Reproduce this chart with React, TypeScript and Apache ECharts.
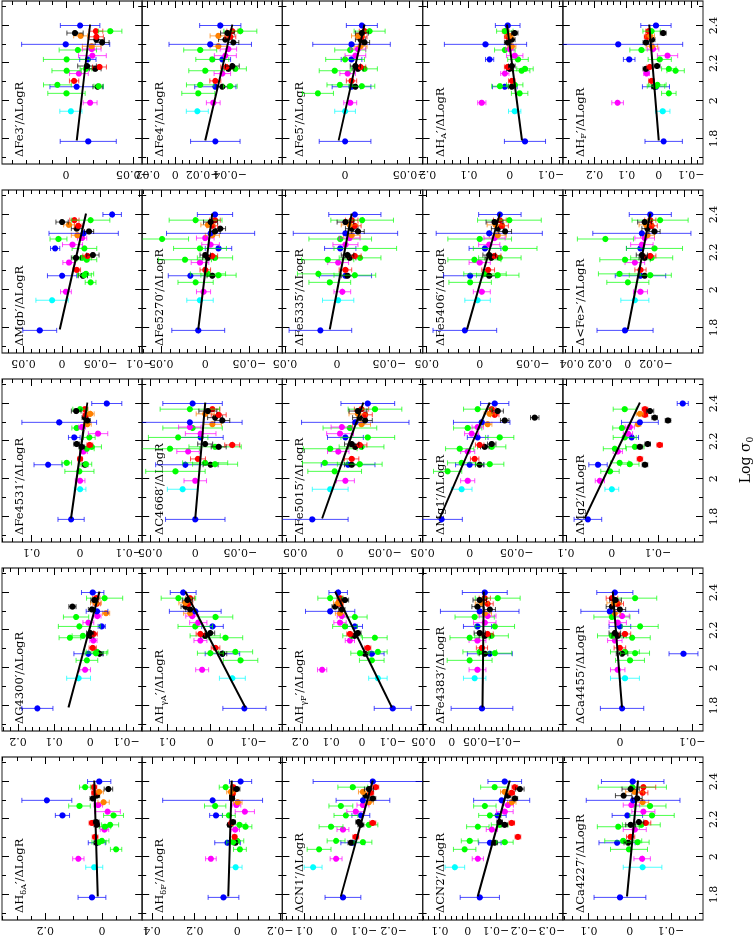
import React, { useEffect, useRef } from "react";
import * as echarts from "echarts";

// ---------------- data ----------------
const logSigma = [1.785, 1.945, 1.99, 2.04, 2.075, 2.085, 2.075, 2.078, 2.106, 2.145, 2.16, 2.17, 2.17, 2.18, 2.185, 2.22, 2.22, 2.24, 2.27, 2.275, 2.29, 2.3, 2.31, 2.325, 2.34, 2.345, 2.37, 2.37, 2.36, 2.4];
const galaxyColor = ["blue", "cyan", "magenta", "green", "blue", "green", "black", "green", "red", "magenta", "green", "green", "black", "red", "black", "blue", "green", "magenta", "green", "magenta", "orange", "blue", "black", "black", "red", "orange", "red", "green", "black", "blue"];
const fitLogSigma = [1.79, 2.405];
const logSigmaTickLabels = [1.8, 2, 2.2, 2.4];

// column 1 of the original (landscape) figure
const HdA_val = [0.035, 0.027, 0.083, -0.05, 0.018, 0.0, 0.018, 0.01, 0.024, -0.009, -0.011, -0.029, 0.018, 0.035, 0.02, 0.139, -0.041, -0.02, 0.079, 0.013, -0.006, 0.194, 0.032, 0.018, 0.026, 0.01, 0.028, 0.059, -0.023, 0.0095];
const HdA_err = [0.049, 0.03, 0.02, 0.02, 0.03, 0.025, 0.01, 0.025, 0.01, 0.015, 0.02, 0.03, 0.01, 0.01, 0.01, 0.025, 0.035, 0.045, 0.038, 0.015, 0.02, 0.088, 0.01, 0.01, 0.01, 0.015, 0.01, 0.02, 0.015, 0.041];
const HdA_fit = [0.015, 0.027];

const HdF_val = [0.065, 0.008, 0.124, -0.012, 0.046, 0.0, 0.01, 0.02, 0.013, 0.01, -0.038, -0.01, 0.036, 0.028, 0.02, 0.1, 0.04, -0.035, 0.104, 0.004, -0.002, 0.116, 0.025, 0.025, 0.02, 0.03, 0.02, 0.055, 0.003, -0.015];
const HdF_err = [0.072, 0.03, 0.025, 0.03, 0.06, 0.03, 0.01, 0.03, 0.01, 0.02, 0.03, 0.03, 0.01, 0.01, 0.01, 0.03, 0.03, 0.045, 0.05, 0.02, 0.02, 0.234, 0.01, 0.01, 0.01, 0.02, 0.01, 0.03, 0.015, 0.052];
const HdF_fit = [0.043, 0.026];

const CN1_val = [-0.03, 0.07, -0.007, 0.05, -0.063, -0.007, -0.057, -0.097, -0.073, -0.03, 0.01, -0.117, -0.09, -0.13, -0.083, -0.09, -0.04, -0.073, -0.023, -0.097, -0.117, -0.097, -0.13, -0.107, -0.123, -0.097, -0.14, -0.063, -0.117, -0.13];
const CN1_err = [0.06, 0.03, 0.02, 0.04, 0.04, 0.03, 0.01, 0.03, 0.01, 0.02, 0.04, 0.03, 0.01, 0.01, 0.01, 0.03, 0.04, 0.03, 0.04, 0.02, 0.015, 0.09, 0.01, 0.01, 0.01, 0.015, 0.01, 0.05, 0.015, 0.2];
const CN1_fit = [-0.023, -0.13];

const CN2_val = [-0.043, 0.046, -0.036, 0.011, -0.079, -0.007, -0.096, -0.132, -0.179, -0.086, -0.036, -0.114, -0.132, -0.157, -0.114, -0.107, -0.079, -0.132, -0.061, -0.143, -0.157, -0.121, -0.168, -0.143, -0.157, -0.132, -0.168, -0.096, -0.186, -0.132];
const CN2_err = [0.07, 0.035, 0.02, 0.04, 0.04, 0.03, 0.01, 0.03, 0.01, 0.02, 0.04, 0.03, 0.01, 0.01, 0.01, 0.03, 0.04, 0.03, 0.04, 0.02, 0.015, 0.1, 0.01, 0.01, 0.01, 0.015, 0.01, 0.05, 0.015, 0.06];
const CN2_fit = [-0.036, -0.15];

const Ca4227_val = [0.024, -0.031, -0.03, 0.002, 0.031, 0.016, 0.004, -0.019, -0.002, -0.012, 0.028, -0.028, -0.002, -0.039, -0.022, 0.006, -0.054, -0.033, -0.049, -0.004, -0.031, -0.008, -0.018, 0.015, -0.031, -0.012, -0.033, -0.006, -0.002, -0.007];
const Ca4227_err = [0.063, 0.047, 0.02, 0.045, 0.044, 0.045, 0.01, 0.028, 0.01, 0.028, 0.051, 0.046, 0.012, 0.012, 0.012, 0.037, 0.054, 0.028, 0.039, 0.02, 0.015, 0.114, 0.012, 0.02, 0.013, 0.022, 0.03, 0.083, 0.021, 0.076];
const Ca4227_fit = [0.007, -0.02];

// column 2
const G4300_val = [0.146, 0.032, 0.014, 0.009, 0.005, -0.019, -0.026, -0.016, -0.007, -0.009, 0.056, 0.02, 0.0, -0.01, 0.0, -0.032, 0.03, 0.005, 0.039, -0.02, -0.044, -0.019, -0.005, 0.049, -0.018, -0.016, -0.017, -0.04, -0.012, -0.007];
const G4300_err = [0.043, 0.033, 0.015, 0.03, 0.04, 0.03, 0.01, 0.03, 0.01, 0.01, 0.03, 0.03, 0.01, 0.01, 0.01, 0.01, 0.058, 0.015, 0.035, 0.01, 0.01, 0.03, 0.01, 0.01, 0.01, 0.015, 0.01, 0.05, 0.01, 0.031];
const G4300_fit = [0.06, -0.026];

const HgA_val = [-0.079, -0.051, 0.019, -0.07, -0.028, -0.058, -0.028, 0.0, -0.012, 0.023, -0.035, 0.012, 0.012, 0.023, 0.0, -0.005, 0.035, 0.028, -0.012, 0.042, 0.047, 0.035, 0.047, 0.058, 0.051, 0.058, 0.047, 0.074, 0.053, 0.063];
const HgA_err = [0.05, 0.03, 0.015, 0.04, 0.04, 0.04, 0.01, 0.03, 0.01, 0.015, 0.04, 0.035, 0.01, 0.01, 0.01, 0.025, 0.04, 0.02, 0.04, 0.015, 0.015, 0.06, 0.01, 0.01, 0.01, 0.015, 0.01, 0.04, 0.012, 0.03];
const HgA_fit = [-0.081, 0.058];

const HgF_val = [-0.1, -0.052, 0.129, -0.032, -0.032, -0.052, -0.01, 0.006, -0.019, 0.039, -0.042, 0.032, 0.023, 0.039, 0.013, 0.023, 0.055, 0.071, 0.023, 0.065, 0.071, 0.103, 0.065, 0.087, 0.071, 0.077, 0.071, 0.103, 0.055, 0.077];
const HgF_err = [0.06, 0.03, 0.015, 0.04, 0.04, 0.03, 0.01, 0.03, 0.01, 0.015, 0.04, 0.03, 0.01, 0.01, 0.01, 0.025, 0.04, 0.02, 0.04, 0.015, 0.015, 0.08, 0.01, 0.01, 0.01, 0.015, 0.01, 0.04, 0.012, 0.03];
const HgF_fit = [-0.097, 0.087];

const Fe4383_val = [-0.054, -0.041, -0.046, -0.032, -0.068, -0.05, -0.059, -0.077, -0.054, -0.046, -0.032, -0.071, -0.059, -0.064, -0.05, -0.046, -0.077, -0.059, -0.041, -0.064, -0.059, -0.05, -0.068, -0.046, -0.064, -0.054, -0.059, -0.082, -0.05, -0.059];
const Fe4383_err = [0.055, 0.02, 0.015, 0.04, 0.04, 0.03, 0.01, 0.03, 0.01, 0.015, 0.035, 0.03, 0.01, 0.01, 0.01, 0.025, 0.035, 0.02, 0.035, 0.015, 0.012, 0.07, 0.01, 0.01, 0.01, 0.012, 0.01, 0.04, 0.012, 0.04];
const Fe4383_fit = [-0.055, -0.057];

const Ca4455_val = [-0.003, -0.007, 0.003, -0.014, -0.088, -0.007, -0.003, -0.021, 0.0, 0.007, -0.017, 0.011, 0.003, -0.007, 0.007, 0.0, -0.028, 0.003, 0.011, -0.003, 0.007, 0.014, 0.0, 0.011, 0.003, 0.008, 0.011, -0.021, 0.006, 0.007];
const Ca4455_err = [0.03, 0.02, 0.01, 0.02, 0.02, 0.02, 0.008, 0.02, 0.008, 0.01, 0.025, 0.02, 0.008, 0.008, 0.008, 0.015, 0.025, 0.012, 0.025, 0.01, 0.008, 0.04, 0.008, 0.008, 0.008, 0.01, 0.008, 0.03, 0.008, 0.025];
const Ca4455_fit = [-0.003, 0.01];

// column 3
const Fe4531_val = [0.0186, 0, 0, 0.0014, 0.066, 0.0276, -0.01, -0.012, 0, -0.007, -0.014, -0.024, -0.0035, -0.02, 0.007, 0.012, -0.019, -0.037, 0.007, -0.004, -0.015, 0.043, -0.015, -0.01, -0.012, -0.021, -0.01, 0.0, 0.008, -0.055];
const Fe4531_err = [0.027, 0.012, 0.01, 0.03, 0.029, 0.01, 0.006, 0.012, 0.005, 0.008, 0.015, 0.02, 0.006, 0.006, 0.006, 0.012, 0.012, 0.02, 0.01, 0.007, 0.008, 0.077, 0.006, 0.006, 0.006, 0.008, 0.006, 0.015, 0.01, 0.031];
const Fe4531_fit = [0.019, -0.015];

const C4668_val = [0, 0.014, 0, 0.022, 0.011, -0.011, -0.017, -0.022, -0.003, 0.008, 0.028, -0.022, -0.026, -0.041, -0.011, -0.006, 0.019, -0.006, 0.003, 0.006, -0.019, 0.006, -0.03, -0.022, -0.026, -0.011, -0.019, 0.006, -0.014, 0.003];
const C4668_err = [0.033, 0.017, 0.0125, 0.033, 0.033, 0.025, 0.0083, 0.025, 0.0083, 0.0125, 0.033, 0.029, 0.0083, 0.0083, 0.0083, 0.025, 0.033, 0.017, 0.033, 0.0125, 0.01, 0.058, 0.0083, 0.0083, 0.0083, 0.01, 0.0083, 0.033, 0.01, 0.033];
const C4668_fit = [0.0, -0.011];

const Fe5015_val = [0.031, 0.011, -0.006, 0.006, -0.009, 0.017, -0.013, -0.022, -0.013, 0.002, 0.011, -0.024, -0.017, -0.022, -0.013, -0.006, -0.031, 0.0, -0.011, -0.002, -0.024, -0.017, -0.028, -0.022, -0.028, -0.02, -0.024, -0.039, -0.02, -0.031];
const Fe5015_err = [0.04, 0.02, 0.01, 0.03, 0.03, 0.025, 0.008, 0.025, 0.008, 0.012, 0.03, 0.025, 0.008, 0.008, 0.008, 0.02, 0.03, 0.015, 0.03, 0.012, 0.01, 0.06, 0.008, 0.008, 0.008, 0.01, 0.008, 0.03, 0.01, 0.03];
const Fe5015_fit = [0.02, -0.026];

const Mg1_val = [0.0298, 0.0085, 0.0021, 0.0234, 0.0, 0.0085, -0.0106, -0.0213, -0.0053, 0.0021, 0.0106, -0.0234, -0.016, -0.0106, -0.0234, -0.0085, -0.0319, -0.0021, 0.0021, -0.0085, -0.0191, -0.0128, -0.0372, -0.0691, -0.0266, -0.0213, -0.0234, -0.0085, -0.0298, -0.0266];
const Mg1_err = [0.022, 0.011, 0.0075, 0.015, 0.015, 0.015, 0.0045, 0.015, 0.0045, 0.0075, 0.015, 0.015, 0.0045, 0.0045, 0.0045, 0.011, 0.015, 0.0075, 0.015, 0.006, 0.0045, 0.03, 0.0045, 0.0045, 0.0045, 0.006, 0.0045, 0.015, 0.006, 0.015];
const Mg1_fit = [0.032, -0.0213];

const Mg2_val = [0.052, 0.0, 0.026, 0.004, 0.03, -0.017, -0.072, -0.039, -0.061, -0.013, -0.0065, -0.05, -0.061, -0.104, -0.078, -0.043, -0.028, -0.035, -0.022, -0.039, -0.057, -0.061, -0.122, -0.093, -0.072, -0.061, -0.072, -0.028, -0.083, -0.154];
const Mg2_err = [0.03, 0.015, 0.01, 0.02, 0.02, 0.02, 0.006, 0.02, 0.006, 0.01, 0.025, 0.02, 0.006, 0.006, 0.006, 0.015, 0.025, 0.01, 0.02, 0.01, 0.006, 0.04, 0.006, 0.006, 0.006, 0.008, 0.006, 0.025, 0.008, 0.012];
const Mg2_fit = [0.059, -0.061];

// column 4
const Mgb_val = [0.029, 0.013, -0.005, -0.037, 0, -0.031, -0.027, -0.029, -0.019, -0.009, -0.032, -0.026, -0.018, -0.033, -0.04, 0.009, -0.029, -0.0135, 0.0047, -0.026, -0.02, -0.028, -0.035, -0.019, -0.021, -0.009, -0.016, -0.037, 0, -0.065];
const Mgb_err = [0.022, 0.021, 0.007, 0.007, 0.019, 0.01, 0.006, 0.009, 0.005, 0.008, 0.013, 0.012, 0.006, 0.006, 0.008, 0.006, 0.016, 0.013, 0.011, 0.006, 0.008, 0.045, 0.006, 0.007, 0.005, 0.007, 0.006, 0.025, 0.008, 0.012];
const Mgb_fit = [0.003, -0.031];

const Fe5270_val = [0.008, 0.006, 0.002, 0.011, 0.017, -0.003, -0.008, -0.015, 0.0, 0.006, 0.023, -0.011, -0.003, -0.008, 0.0, -0.015, 0.006, -0.006, 0.049, 0.0, -0.008, -0.006, -0.011, -0.017, -0.008, -0.003, -0.011, 0.011, -0.006, -0.011];
const Fe5270_err = [0.03, 0.015, 0.008, 0.02, 0.025, 0.02, 0.006, 0.02, 0.006, 0.01, 0.03, 0.02, 0.006, 0.006, 0.006, 0.015, 0.03, 0.01, 0.03, 0.01, 0.008, 0.05, 0.006, 0.006, 0.006, 0.008, 0.006, 0.03, 0.008, 0.02];
const Fe5270_fit = [0.008, -0.008];

const Fe5335_val = [0.016, -0.001, -0.005, 0.007, -0.008, 0.018, -0.01, -0.017, -0.008, -0.001, 0.009, -0.022, -0.012, -0.017, -0.01, -0.003, -0.027, -0.008, -0.003, -0.012, -0.014, -0.008, -0.02, -0.014, -0.017, -0.012, -0.014, -0.024, -0.008, -0.017];
const Fe5335_err = [0.03, 0.015, 0.008, 0.02, 0.025, 0.02, 0.006, 0.02, 0.006, 0.01, 0.025, 0.02, 0.006, 0.006, 0.006, 0.015, 0.03, 0.012, 0.03, 0.01, 0.008, 0.05, 0.006, 0.006, 0.006, 0.008, 0.006, 0.03, 0.008, 0.025];
const Fe5335_fit = [0.007, -0.014];

const Fe5406_val = [0.014, 0.002, -0.002, 0.009, 0.009, -0.005, -0.009, -0.017, -0.008, 0.0, 0.005, -0.019, -0.011, -0.014, -0.009, -0.005, -0.024, -0.009, 0.0, -0.014, -0.017, -0.009, -0.024, -0.017, -0.021, -0.015, -0.019, -0.028, -0.014, -0.019];
const Fe5406_err = [0.03, 0.012, 0.008, 0.02, 0.025, 0.02, 0.006, 0.02, 0.006, 0.01, 0.025, 0.02, 0.006, 0.006, 0.006, 0.015, 0.03, 0.01, 0.03, 0.01, 0.008, 0.05, 0.006, 0.006, 0.006, 0.008, 0.006, 0.03, 0.008, 0.02];
const Fe5406_fit = [0.012, -0.019];

const Fe_val = [0.002, -0.005, -0.009, 0.0, -0.009, 0.006, -0.012, -0.016, -0.009, -0.005, 0.002, -0.017, -0.012, -0.016, -0.01, -0.009, -0.019, -0.01, 0.016, -0.012, -0.014, -0.01, -0.019, -0.014, -0.017, -0.013, -0.016, -0.023, -0.012, -0.016];
const Fe_err = [0.02, 0.01, 0.005, 0.015, 0.018, 0.015, 0.004, 0.015, 0.004, 0.007, 0.018, 0.015, 0.004, 0.004, 0.004, 0.01, 0.02, 0.008, 0.02, 0.007, 0.005, 0.035, 0.004, 0.004, 0.004, 0.005, 0.004, 0.02, 0.005, 0.015];
const Fe_fit = [0.0, -0.016];

// column 5
const Fe3_val = [-0.0166, -0.0036, -0.018, -0.0003, -0.0079, 0.0065, -0.0236, -0.0244, -0.006, -0.0096, -0.0004, -0.0149, -0.0218, -0.025, -0.0157, -0.0163, -0.0004, -0.0197, -0.0088, -0.0192, -0.0192, 0.0003, -0.027, -0.0227, -0.0227, -0.0109, -0.0223, -0.0331, -0.0067, -0.0105];
const Fe3_err = [0.021, 0.0083, 0.0052, 0.014, 0.02, 0.0104, 0.0035, 0.0035, 0.0035, 0.007, 0.011, 0.0044, 0.0044, 0.0052, 0.007, 0.0061, 0.0174, 0.0104, 0.014, 0.007, 0.007, 0.033, 0.0052, 0.0061, 0.0052, 0.0052, 0.0052, 0.0087, 0.0061, 0.0148];
const Fe3_fit = [-0.0079, -0.018];

const Fe4_val = [-0.0292, -0.0161, -0.0277, -0.0168, -0.0292, -0.0182, -0.0343, -0.0401, -0.0292, -0.0343, -0.0219, -0.0438, -0.0387, -0.0372, -0.0416, -0.0343, -0.027, -0.0365, -0.0182, -0.0387, -0.0314, -0.0255, -0.0423, -0.0365, -0.0401, -0.0314, -0.0416, -0.0474, -0.038, -0.0328];
const Fe4_err = [0.018, 0.008, 0.005, 0.012, 0.015, 0.01, 0.004, 0.005, 0.004, 0.006, 0.012, 0.008, 0.004, 0.004, 0.005, 0.006, 0.012, 0.008, 0.012, 0.006, 0.006, 0.03, 0.004, 0.005, 0.004, 0.006, 0.004, 0.012, 0.005, 0.015];
const Fe4_fit = [-0.0219, -0.0416];

const Fe5_val = [0.0, 0.0, -0.004, 0.021, -0.005, 0.004, -0.008, -0.013, -0.005, -0.002, 0.008, -0.015, -0.01, -0.012, -0.008, -0.005, 0.0, -0.008, -0.004, -0.01, -0.012, -0.005, -0.015, -0.012, -0.013, -0.01, -0.015, -0.019, -0.013, -0.013];
const Fe5_err = [0.02, 0.008, 0.005, 0.012, 0.015, 0.01, 0.004, 0.01, 0.004, 0.006, 0.012, 0.01, 0.004, 0.004, 0.004, 0.008, 0.015, 0.008, 0.012, 0.006, 0.005, 0.03, 0.004, 0.004, 0.004, 0.005, 0.004, 0.012, 0.005, 0.012];
const Fe5_fit = [0.005, -0.015];

const HA_val = [-0.037, -0.012, 0.068, -0.024, 0.012, -0.012, -0.005, 0.024, -0.005, 0.012, -0.029, -0.037, 0.0, 0.005, -0.005, 0.049, -0.02, -0.012, 0.012, 0.0, -0.005, 0.059, 0.005, -0.005, 0.005, 0.0, 0.01, 0.012, -0.012, 0.005];
const HA_err = [0.05, 0.015, 0.01, 0.02, 0.03, 0.02, 0.008, 0.02, 0.008, 0.01, 0.02, 0.02, 0.008, 0.008, 0.008, 0.01, 0.025, 0.02, 0.025, 0.01, 0.01, 0.1, 0.008, 0.008, 0.008, 0.01, 0.008, 0.02, 0.008, 0.03];
const HA_fit = [-0.03, 0.007];

const HF_val = [-0.015, -0.012, 0.128, -0.031, 0.009, 0.0045, 0.0135, 0.009, 0.0225, 0.038, -0.052, -0.031, 0.04, 0.028, 0.0054, 0.092, -0.0027, -0.027, 0.054, 0.018, 0.0216, 0.126, 0.04, 0.021, 0.036, 0.027, 0.0315, 0.0225, -0.0135, 0.009];
const HF_err = [0.058, 0.0225, 0.018, 0.0225, 0.042, 0.027, 0.009, 0.027, 0.009, 0.009, 0.027, 0.0225, 0.009, 0.009, 0.009, 0.018, 0.036, 0.0315, 0.036, 0.018, 0.018, 0.2, 0.009, 0.009, 0.009, 0.0135, 0.009, 0.027, 0.009, 0.047];
const HF_fit = [0, 0.03];

// ---------------- styling / layout ----------------
const PALETTE: Record<string, string> = {
  blue: "#0000ff", cyan: "#00ffff", magenta: "#ff00ff", green: "#00ff00",
  red: "#ff0000", black: "#000000", orange: "#ff8000",
};
const FONT = "DejaVu Serif";
const CW = 939, CH = 753; // unrotated canvas (shown turned by -90deg)
const COL_LEFT = [19, 208, 397, 586, 775];
const COL_W = 163;
const ROW_TOP = 2;
const ROW_H = 140.2;
const X_MIN = 1.665, X_MAX = 2.53;

type Seg = [string, string];
type Panel = { title: Seg[]; val: number[]; err: number[]; fit: number[]; min: number; max: number; step: number; minor: number };

const T = (name: string, sub?: string): Seg[] =>
  sub ? [["n", "Δ" + name], ["s", sub], ["n", "′/ΔLogR"]] : [["n", "Δ" + name + "′/ΔLogR"]];

const panels: Panel[][] = [
  [
    { title: T("H", "δA"), val: HdA_val, err: HdA_err, fit: HdA_fit, min: -0.142, max: 0.352, step: 0.2, minor: 0.05 },
    { title: T("H", "δF"), val: HdF_val, err: HdF_err, fit: HdF_fit, min: -0.211, max: 0.446, step: 0.2, minor: 0.05 },
    { title: T("CN1"), val: CN1_val, err: CN1_err, fit: CN1_fit, min: -0.297, max: 0.173, step: 0.1, minor: 0.02 },
    { title: T("CN2"), val: CN2_val, err: CN2_err, fit: CN2_fit, min: -0.339, max: 0.161, step: 0.1, minor: 0.02 },
    { title: T("Ca4227"), val: Ca4227_val, err: Ca4227_err, fit: Ca4227_fit, min: -0.178, max: 0.163, step: 0.1, minor: 0.02 },
  ],
  [
    { title: T("G4300"), val: G4300_val, err: G4300_err, fit: G4300_fit, min: -0.144, max: 0.244, step: 0.1, minor: 0.02 },
    { title: T("H", "γA"), val: HgA_val, err: HgA_err, fit: HgA_fit, min: -0.167, max: 0.158, step: 0.1, minor: 0.02 },
    { title: T("H", "γF"), val: HgF_val, err: HgF_err, fit: HgF_fit, min: -0.197, max: 0.258, step: 0.1, minor: 0.02 },
    { title: T("Fe4383"), val: Fe4383_val, err: Fe4383_err, fit: Fe4383_fit, min: -0.198, max: 0.0518, step: 0.05, minor: 0.01 },
    { title: T("Ca4455"), val: Ca4455_val, err: Ca4455_err, fit: Ca4455_fit, min: -0.115, max: 0.079, step: 0.1, minor: 0.02 },
  ],
  [
    { title: T("Fe4531"), val: Fe4531_val, err: Fe4531_err, fit: Fe4531_fit, min: -0.128, max: 0.161, step: 0.1, minor: 0.02 },
    { title: T("C4668"), val: C4668_val, err: C4668_err, fit: C4668_fit, min: -0.0967, max: 0.0589, step: 0.05, minor: 0.01 },
    { title: T("Fe5015"), val: Fe5015_val, err: Fe5015_err, fit: Fe5015_fit, min: -0.0922, max: 0.0644, step: 0.05, minor: 0.01 },
    { title: T("Mg1"), val: Mg1_val, err: Mg1_err, fit: Mg1_fit, min: -0.0989, max: 0.0500, step: 0.05, minor: 0.01 },
    { title: T("Mg2"), val: Mg2_val, err: Mg2_err, fit: Mg2_fit, min: -0.198, max: 0.1065, step: 0.1, minor: 0.02 },
  ],
  [
    { title: T("Mgb"), val: Mgb_val, err: Mgb_err, fit: Mgb_fit, min: -0.104, max: 0.078, step: 0.05, minor: 0.01 },
    { title: T("Fe5270"), val: Fe5270_val, err: Fe5270_err, fit: Fe5270_fit, min: -0.0875, max: 0.0716, step: 0.05, minor: 0.01 },
    { title: T("Fe5335"), val: Fe5335_val, err: Fe5335_err, fit: Fe5335_fit, min: -0.0819, max: 0.0524, step: 0.05, minor: 0.01 },
    { title: T("Fe5406"), val: Fe5406_val, err: Fe5406_err, fit: Fe5406_fit, min: -0.0783, max: 0.0538, step: 0.05, minor: 0.01 },
    { title: T("<Fe>"), val: Fe_val, err: Fe_err, fit: Fe_fit, min: -0.0536, max: 0.0464, step: 0.02, minor: 0.005 },
  ],
  [
    { title: T("Fe3"), val: Fe3_val, err: Fe3_err, fit: Fe3_fit, min: -0.057, max: 0.048, step: 0.05, minor: 0.01 },
    { title: T("Fe4"), val: Fe4_val, err: Fe4_err, fit: Fe4_fit, min: -0.078, max: 0.024, step: 0.02, minor: 0.005 },
    { title: T("Fe5"), val: Fe5_val, err: Fe5_err, fit: Fe5_fit, min: -0.06, max: 0.0485, step: 0.05, minor: 0.01 },
    { title: T("H", "A"), val: HA_val, err: HA_err, fit: HA_fit, min: -0.129, max: 0.212, step: 0.1, minor: 0.02 },
    { title: T("H", "F"), val: HF_val, err: HF_err, fit: HF_fit, min: -0.137, max: 0.298, step: 0.1, minor: 0.02 },
  ],
];

function multiples(min: number, max: number, step: number): number[] {
  const out: number[] = [];
  const k0 = Math.ceil(min / step - 1e-9), k1 = Math.floor(max / step + 1e-9);
  for (let k = k0; k <= k1; k++) out.push(+(k * step).toFixed(6));
  return out;
}
const fmt = (v: number) => String(+v.toFixed(6)).replace("-", "−");

function buildOption() {
  const grid: any[] = [], xAxis: any[] = [], yAxis: any[] = [], series: any[] = [], graphic: any[] = [];
  const tickStyle = { color: "#000", width: 1 };
  const xMajor = [1.8, 2.0, 2.2, 2.4];
  const xMinor = [1.7, 1.9, 2.1, 2.3, 2.5];
  let g = 0;
  panels.forEach((col, c) => {
    col.forEach((p, r) => {
      const top = ROW_TOP + r * ROW_H;
      grid.push({ left: COL_LEFT[c], top, width: COL_W, height: ROW_H, show: true, borderColor: "#222", borderWidth: 1.2, backgroundColor: "transparent" });
      const majors = multiples(p.min, p.max, p.step);
      const minors = multiples(p.min, p.max, p.minor).filter((v) => !majors.some((m) => Math.abs(m - v) < 1e-9));
      const xBase = { gridIndex: g, type: "value", min: X_MIN, max: X_MAX, axisLine: { show: false, onZero: false }, splitLine: { show: false } };
      xAxis.push({ ...xBase, position: "bottom", axisTick: { inside: true, length: 7, customValues: xMajor, lineStyle: tickStyle },
        axisLabel: { show: r === 4, customValues: logSigmaTickLabels, margin: 5, fontFamily: FONT, fontSize: 11, color: "#000", formatter: fmt } });
      xAxis.push({ ...xBase, position: "bottom", axisTick: { inside: true, length: 4, customValues: xMinor, lineStyle: tickStyle }, axisLabel: { show: false } });
      xAxis.push({ ...xBase, position: "top", axisTick: { inside: true, length: 7, customValues: xMajor, lineStyle: tickStyle }, axisLabel: { show: false } });
      xAxis.push({ ...xBase, position: "top", axisTick: { inside: true, length: 4, customValues: xMinor, lineStyle: tickStyle }, axisLabel: { show: false } });
      const yBase = { gridIndex: g, type: "value", min: p.min, max: p.max, axisLine: { show: false, onZero: false }, splitLine: { show: false } };
      yAxis.push({ ...yBase, position: "left", axisTick: { inside: true, length: 7, customValues: majors, lineStyle: tickStyle },
        axisLabel: { show: true, customValues: majors, rotate: 90, margin: 5, fontFamily: FONT, fontSize: 11, color: "#000", formatter: fmt } });
      yAxis.push({ ...yBase, position: "left", axisTick: { inside: true, length: 4, customValues: minors, lineStyle: tickStyle }, axisLabel: { show: false } });
      yAxis.push({ ...yBase, position: "right", axisTick: { inside: true, length: 7, customValues: majors, lineStyle: tickStyle }, axisLabel: { show: false } });
      yAxis.push({ ...yBase, position: "right", axisTick: { inside: true, length: 4, customValues: minors, lineStyle: tickStyle }, axisLabel: { show: false } });

      const data: number[][] = [];
      p.val.forEach((v, i) => {
        if (v == null) return;
        data.push([logSigma[i], v, p.err[i], i]);
      });
      series.push({
        type: "custom", coordinateSystem: "cartesian2d", xAxisIndex: 4 * g, yAxisIndex: 4 * g, clip: true, silent: true, z: 2,
        data,
        renderItem: (params: any, api: any) => {
          const x = api.value(0), y = api.value(1), e = api.value(2), idx = api.value(3);
          const col = PALETTE[galaxyColor[idx]];
          const pc = api.coord([x, y]);
          const lo = api.coord([x, y - e]);
          const hi = api.coord([x, y + e]);
          const cap = 2.5;
          const st = { stroke: col, lineWidth: 1, opacity: 0.7 };
          return {
            type: "group",
            children: [
              { type: "line", shape: { x1: pc[0], y1: lo[1], x2: pc[0], y2: hi[1] }, style: st },
              { type: "line", shape: { x1: pc[0] - cap, y1: lo[1], x2: pc[0] + cap, y2: lo[1] }, style: st },
              { type: "line", shape: { x1: pc[0] - cap, y1: hi[1], x2: pc[0] + cap, y2: hi[1] }, style: st },
              { type: "circle", shape: { cx: pc[0], cy: pc[1], r: 3.1 }, style: { fill: col } },
            ],
          };
        },
      });
      series.push({
        type: "line", xAxisIndex: 4 * g, yAxisIndex: 4 * g, silent: true, z: 3, symbol: "none",
        lineStyle: { color: "#000", width: 2 },
        data: [[fitLogSigma[0], p.fit[0]], [fitLogSigma[1], p.fit[1]]],
      });
      graphic.push({
        type: "text", x: COL_LEFT[c] + 7, y: top + 17, silent: true,
        style: {
          text: p.title.map(([k, s]) => `{${k}|${s}}`).join(""),
          verticalAlign: "middle", align: "left",
          rich: {
            n: { fontFamily: FONT, fontSize: 11.5, fill: "#000", lineHeight: 16 },
            s: { fontFamily: FONT, fontSize: 8, fill: "#000", lineHeight: 8, verticalAlign: "bottom" },
          },
        },
      });
      g++;
    });
  });
  graphic.push({
    type: "text", x: 479, y: 745, silent: true,
    style: {
      text: "{n|Log σ}{s|0}", align: "center", verticalAlign: "middle",
      rich: {
        n: { fontFamily: FONT, fontSize: 14, fill: "#000", lineHeight: 18 },
        s: { fontFamily: FONT, fontSize: 9, fill: "#000", lineHeight: 9, verticalAlign: "bottom" },
      },
    },
  });
  return { animation: false, backgroundColor: "#fff", grid, xAxis, yAxis, series, graphic };
}

export default function App() {
  const ref = useRef<HTMLDivElement>(null);
  useEffect(() => {
    if (!ref.current) return;
    const chart = echarts.init(ref.current, undefined, { renderer: "svg", width: CW, height: CH });
    chart.setOption(buildOption() as any);
    return () => chart.dispose();
  }, []);
  return (
    <div
      ref={ref}
      style={{
        position: "fixed", left: 0, top: 0, width: CW, height: CH,
        transformOrigin: "0 0", transform: `translate(0px, ${CW}px) rotate(-90deg)`, background: "#fff",
      }}
    />
  );
}
